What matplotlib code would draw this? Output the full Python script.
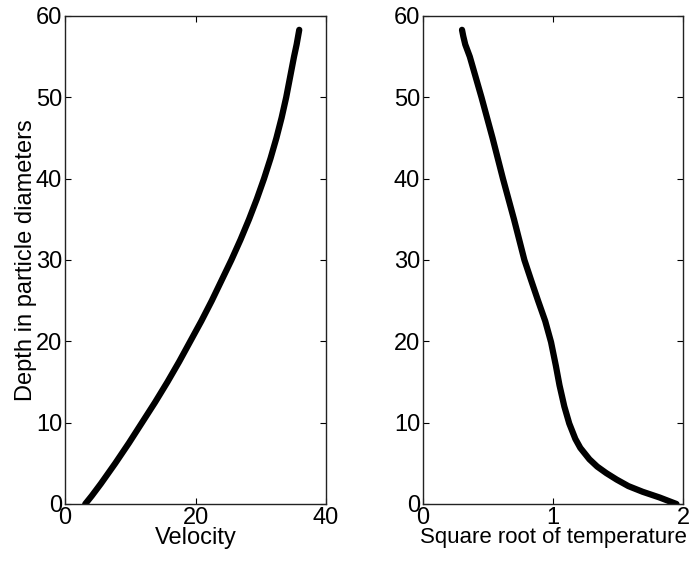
import matplotlib
matplotlib.use("Agg")
import matplotlib.pyplot as plt

# Perfil de velocidad
prof_vel = [0, 1, 2.5, 5, 7.5, 10, 12.5, 15, 17.5, 20, 22.5, 25, 27.5, 30, 32.5, 35,
            37.5, 40, 42.5, 45, 47.5, 50, 52.5, 55, 56.5, 58.3]
velocidad = [3.1, 4.1, 5.5, 7.7, 9.8, 11.8, 13.8, 15.7, 17.5, 19.2, 20.9, 22.5, 24.0, 25.5,
             26.9, 28.2, 29.4, 30.5, 31.5, 32.4, 33.2, 33.9, 34.5, 35.1, 35.5, 35.9]

# Perfil de raíz cuadrada de la temperatura
prof_temp = [0, 0.8, 1.5, 2.2, 3, 3.8, 4.6, 5.5, 6.9, 8, 9.9, 12, 14.6, 17, 19.9,
             22.5, 25, 27.5, 30, 32.5, 35, 40, 45, 50, 52.5, 55, 56.5, 57.5, 58.3]
raiz_temp = [1.95, 1.82, 1.69, 1.58, 1.49, 1.41, 1.34, 1.28, 1.21, 1.172, 1.125, 1.087,
             1.05, 1.022, 0.985, 0.94, 0.885, 0.832, 0.78, 0.74, 0.70, 0.615, 0.535, 0.45,
             0.405, 0.36, 0.325, 0.31, 0.30]

plt.rcParams['font.family'] = ['Liberation Sans', 'DejaVu Sans']
plt.rcParams['font.size'] = 17

fig = plt.figure(figsize=(6.92, 5.61), dpi=100)
ax1 = fig.add_axes([65 / 692, 57 / 561, 261 / 692, 488 / 561])
ax2 = fig.add_axes([423 / 692, 57 / 561, 260 / 692, 488 / 561])

ax1.plot(velocidad, prof_vel, color='black', lw=4.5, solid_capstyle='round', solid_joinstyle='round')
ax1.set_xlim(0, 40)
ax1.set_xticks([0, 20, 40])
ax1.set_xlabel("Velocity", labelpad=-1)
ax1.set_ylabel("Depth in particle diameters", labelpad=-1)

ax2.plot(raiz_temp, prof_temp, color='black', lw=4.5, solid_capstyle='round', solid_joinstyle='round')
ax2.set_xlim(0, 2)
ax2.set_xticks([0, 1, 2])
ax2.set_xlabel("Square root of temperature", labelpad=-1, fontsize=16)

for ax in (ax1, ax2):
    ax.set_ylim(0, 60)
    ax.set_yticks([0, 10, 20, 30, 40, 50, 60])
    ax.tick_params(direction='in', top=True, right=True, length=4, width=0.8, pad=2)
    for s in ax.spines.values():
        s.set_linewidth(1.0)
        s.set_color('#222222')

fig.savefig("out.png", dpi=100)
